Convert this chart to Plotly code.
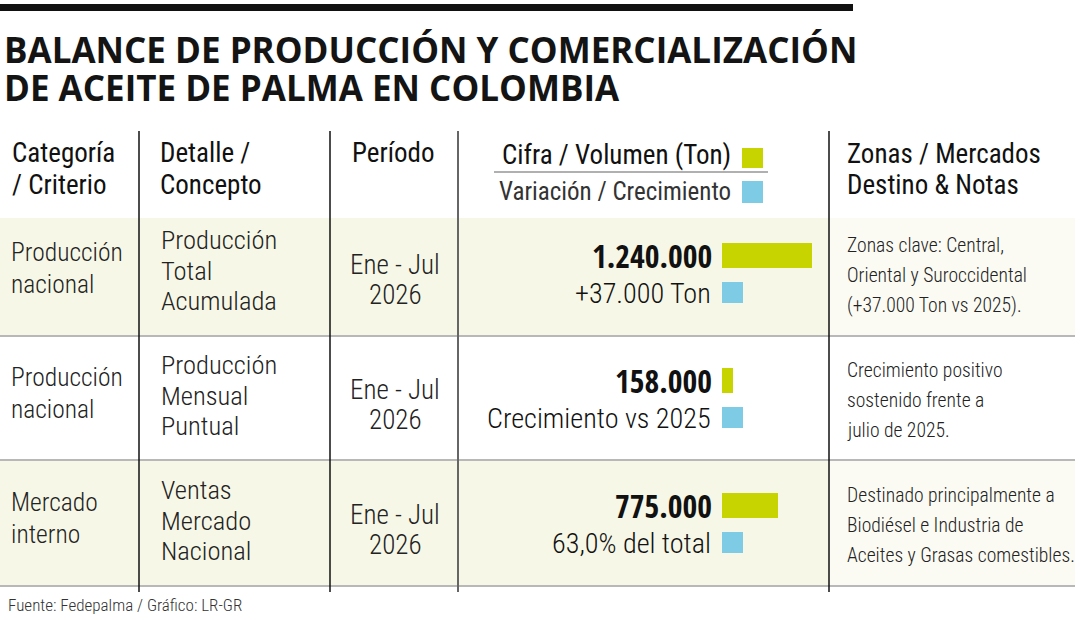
import plotly.graph_objects as go

# ---- data -------------------------------------------------------------
TITLE_LINES = ["BALANCE DE PRODUCCIÓN Y COMERCIALIZACIÓN",
               "DE ACEITE DE PALMA EN COLOMBIA"]
HEADERS = ["Categoría<br>/ Criterio", "Detalle /<br>Concepto", "Período",
           "Cifra / Volumen (Ton)", "Variación / Crecimiento",
           "Zonas / Mercados<br>Destino & Notas"]
categories = ["Producción<br>nacional", "Producción<br>nacional", "Mercado<br>interno"]
details = ["Producción<br>Total<br>Acumulada", "Producción<br>Mensual<br>Puntual",
           "Ventas<br>Mercado<br>Nacional"]
periods = ["Ene - Jul<br>2026", "Ene - Jul<br>2026", "Ene - Jul<br>2026"]
volumes = [1240000, 158000, 775000]
volume_labels = ["1.240.000", "158.000", "775.000"]
variations = ["+37.000 Ton", "Crecimiento vs 2025", "63,0% del total"]
notes = ["Zonas clave: Central,<br>Oriental y Suroccidental<br>(+37.000 Ton vs 2025).",
         "Crecimiento positivo<br>sostenido frente a<br>julio de 2025.",
         "Destinado principalmente a<br>Biodiésel e Industria de<br>Aceites y Grasas comestibles."]
SOURCE = "Fuente: Fedepalma / Gráfico: LR-GR"

# ---- style ------------------------------------------------------------
W, H = 1080, 620
GREEN = "#c8d400"
BLUE = "#7ecbe6"
BAND = "#f6f7e6"
BAND_R = "#fbfbf3"
COND = "Roboto Condensed, Liberation Sans, sans-serif"
COND_B = "Open Sans Condensed, Roboto Condensed, sans-serif"
ROW_MID = [274, 399, 524]
ROW_EDGES = [218, 336, 460, 586]
COL_LINES = [139, 330, 458, 829]

fig = go.Figure()


def text(x, y, s, size, family=COND, color="#222", anchor="left", weight=400):
    fig.add_annotation(x=x, y=y, xref="x", yref="y", text=s, showarrow=False,
                       xanchor=anchor, yanchor="middle",
                       font=dict(family=family, size=size, color=color, weight=weight))


def lines(x, y_mid, s, size, step, anchor="left", **kw):
    parts = s.split("<br>")
    y0 = y_mid - step * (len(parts) - 1) / 2
    for i, p in enumerate(parts):
        text(x, y0 + i * step, p, size, anchor=anchor, **kw)


shapes = []
# top rule
shapes.append(dict(type="rect", x0=0, x1=853, y0=4, y1=11, fillcolor="#111", line_width=0))
# row bands (1st and 3rd rows)
for r in (0, 2):
    shapes.append(dict(type="rect", x0=0, x1=829, y0=ROW_EDGES[r], y1=ROW_EDGES[r + 1],
                       fillcolor=BAND, line_width=0, layer="below"))
    shapes.append(dict(type="rect", x0=829, x1=1075, y0=ROW_EDGES[r], y1=ROW_EDGES[r + 1],
                       fillcolor=BAND_R, line_width=0, layer="below"))
# row separators
for y in ROW_EDGES[1:]:
    shapes.append(dict(type="line", x0=0, x1=1075, y0=y, y1=y,
                       line=dict(color="#b8b8b8", width=2)))
# column separators
for i, x in enumerate(COL_LINES):
    shapes.append(dict(type="line", x0=x, x1=x, y0=131, y1=592,
                       line=dict(color="#666" if i == 2 else "#111",
                                 width=2 if i == 2 else 1.5)))
# header underline + legend keys
shapes.append(dict(type="line", x0=494, x1=768, y0=172, y1=172,
                   line=dict(color="#b0b0b0", width=2)))
shapes.append(dict(type="rect", x0=742, x1=763, y0=148, y1=168, fillcolor=GREEN, line_width=0))
shapes.append(dict(type="rect", x0=742, x1=763, y0=181, y1=203, fillcolor=BLUE, line_width=0))
# variation keys in rows
for m in ROW_MID:
    shapes.append(dict(type="rect", x0=722, x1=743, y0=m + 8, y1=m + 29,
                       fillcolor=BLUE, line_width=0))

# volume bars, scaled by the value axis
fig.add_trace(go.Bar(x=volumes, y=[m - 19 for m in ROW_MID], orientation="h",
                     width=25, marker=dict(color=GREEN, line_width=0),
                     xaxis="x2", yaxis="y", hoverinfo="skip", showlegend=False))

# title
text(2, 49, TITLE_LINES[0], 35, family="Open Sans, sans-serif", color="#141414", weight=700)
text(2, 87, TITLE_LINES[1], 35, family="Open Sans, sans-serif", color="#141414", weight=700)

# header
lines(10, 169, HEADERS[0], 27, 32, color="#111")
lines(158, 169, HEADERS[1], 27, 32, color="#111")
text(350, 153, HEADERS[2], 27, color="#111")
text(733, 155, HEADERS[3], 27, color="#111", anchor="right")
text(733, 191, HEADERS[4], 25, color="#333", anchor="right")
lines(845, 169, HEADERS[5], 27, 31, color="#111")

# body rows
for i, m in enumerate(ROW_MID):
    lines(9, m - 6, categories[i], 25.5, 32, weight=300)
    lines(159, m - 4, details[i], 26.5, 30.5, weight=300)
    lines(395, m + 6, periods[i], 27, 30, anchor="center", weight=300)
    text(714, m - 19, volume_labels[i], 31.8, family=COND_B, color="#111", anchor="right", weight=700)
    text(713, m + 19, variations[i], 28.2, anchor="right", color="#111", weight=300)
    lines(845, m + 1, notes[i], 19.6, 30, color="#222", weight=300)

text(6, 605, SOURCE, 17, color="#333", weight=300)

fig.update_layout(
    width=W, height=H, margin=dict(l=0, r=0, t=0, b=0),
    paper_bgcolor="white", plot_bgcolor="rgba(0,0,0,0)",
    shapes=shapes, showlegend=False, bargap=0,
    xaxis=dict(range=[0, W], domain=[0, 1], visible=False, fixedrange=True),
    yaxis=dict(range=[H, 0], domain=[0, 1], visible=False, fixedrange=True),
    xaxis2=dict(range=[0, max(volumes)], domain=[722 / W, 812 / W], anchor="y",
                visible=False, fixedrange=True),
)
# page body has a default margin; drop it so the figure sits at the window corner
fig.write_html("out.html", config={"displayModeBar": False},
               post_script="document.body.style.margin='0';")
